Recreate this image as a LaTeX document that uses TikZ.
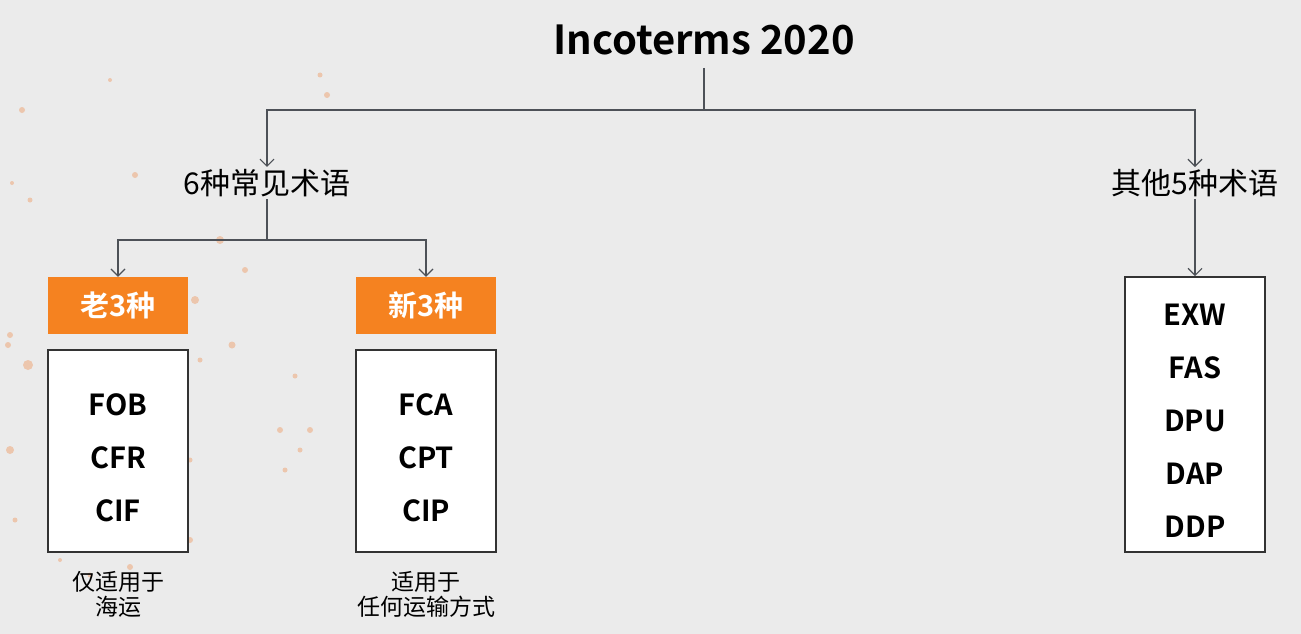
\documentclass[tikz,border=0pt]{standalone}
\usepackage{fontspec}
\setmainfont{Noto Sans CJK SC}[BoldFont={* Bold}]
\usetikzlibrary{arrows.meta}
\definecolor{bg}{HTML}{EBEBEB}
\definecolor{linec}{HTML}{4D5157}
\definecolor{orangec}{HTML}{F58220}
\definecolor{dotc}{HTML}{EE9A62}
\definecolor{framec}{HTML}{333333}
\tikzset{
  conn/.style={draw=linec, line width=1.2pt, -{Straight Barb[length=7pt,width=14pt,line width=1.2pt]}},
  plain/.style={draw=linec, line width=1.2pt},
  headtext/.style={font=\fontsize{30}{34}\selectfont, text=black, inner sep=2pt},
  tagbox/.style={fill=orangec, minimum width=140pt, minimum height=57pt, inner sep=0pt,
    text=white, font=\bfseries\fontsize{29}{32}\selectfont},
  listbox/.style={draw=framec, fill=white, line width=1.6pt, minimum width=140pt, inner sep=0pt},
  term/.style={font=\bfseries\fontsize{29}{32}\selectfont, inner sep=0pt},
  note/.style={font=\fontsize{23}{25}\selectfont, align=center, inner sep=0pt}
}
\begin{document}
\begin{tikzpicture}[x=1pt,y=-1pt]
\useasboundingbox (0,0) rectangle (1301,634);
\fill[bg] (0,0) rectangle (1301,634);
% faint decorative dots in the left background
\foreach \px/\py/\r in {22/110/3, 12/183/2, 30/200/2.5, 110/80/2, 135/175/3, 140/330/2.5,
  220/240/4, 245/270/3, 195/300/4, 280/430/3, 232/345/3.5, 10/335/3, 8/345/3, 28/365/5,
  10/450/4, 200/360/2.5, 190/460/2.5, 295/376/2.5, 310/430/3, 300/450/2.5, 285/470/2.5,
  130/567/3, 90/575/2.5, 15/520/2.5, 60/560/2, 190/540/3, 327/95/3, 320/75/2.5}
  \fill[dotc, opacity=0.45] (\px,\py) circle (\r);

% title and first level
\node[font=\bfseries\fontsize{40}{44}\selectfont, inner sep=0pt] (title) at (704,40) {Incoterms 2020};
\node[headtext] (six) at (267,183) {6种常见术语};
\node[headtext] (five) at (1195,183) {其他5种术语};
\coordinate (split) at (704,110);
\draw[plain] (704,68) -- (split);
\draw[conn] (split) -| (six.north);
\draw[conn] (split) -| (five.north);

% second level: common terms
\node[tagbox] (old) at (118,305.5) {老3种};
\node[tagbox] (new) at (426,305.5) {新3种};
\coordinate (split2) at (267,240);
\draw[plain] (six.south) -- (split2);
\draw[conn] (split2) -| (old.north);
\draw[conn] (split2) -| (new.north);

\node[listbox, minimum height=202pt] (oldlist) at (118,451) {};
\node[listbox, minimum height=202pt] (newlist) at (426,451) {};
\node[term] (fob) at (118,405) {FOB};
\node[term] (cfr) at (118,458) {CFR};
\node[term] (cif) at (118,511) {CIF};
\node[term] (fca) at (426,405) {FCA};
\node[term] (cpt) at (426,458) {CPT};
\node[term] (cip) at (426,511) {CIP};

\node[note] (oldnote) at (118,594) {仅适用于\\海运};
\node[note] (newnote) at (426,594) {适用于\\任何运输方式};

% other terms
\node[listbox, minimum height=275pt] (otherlist) at (1195,414.5) {};
\draw[conn] (five.south) -- (otherlist.north);
\node[term] (exw) at (1195,315) {EXW};
\node[term] (fas) at (1195,368) {FAS};
\node[term] (dpu) at (1195,421) {DPU};
\node[term] (dap) at (1195,474) {DAP};
\node[term] (ddp) at (1195,527) {DDP};
\end{tikzpicture}
\end{document}
